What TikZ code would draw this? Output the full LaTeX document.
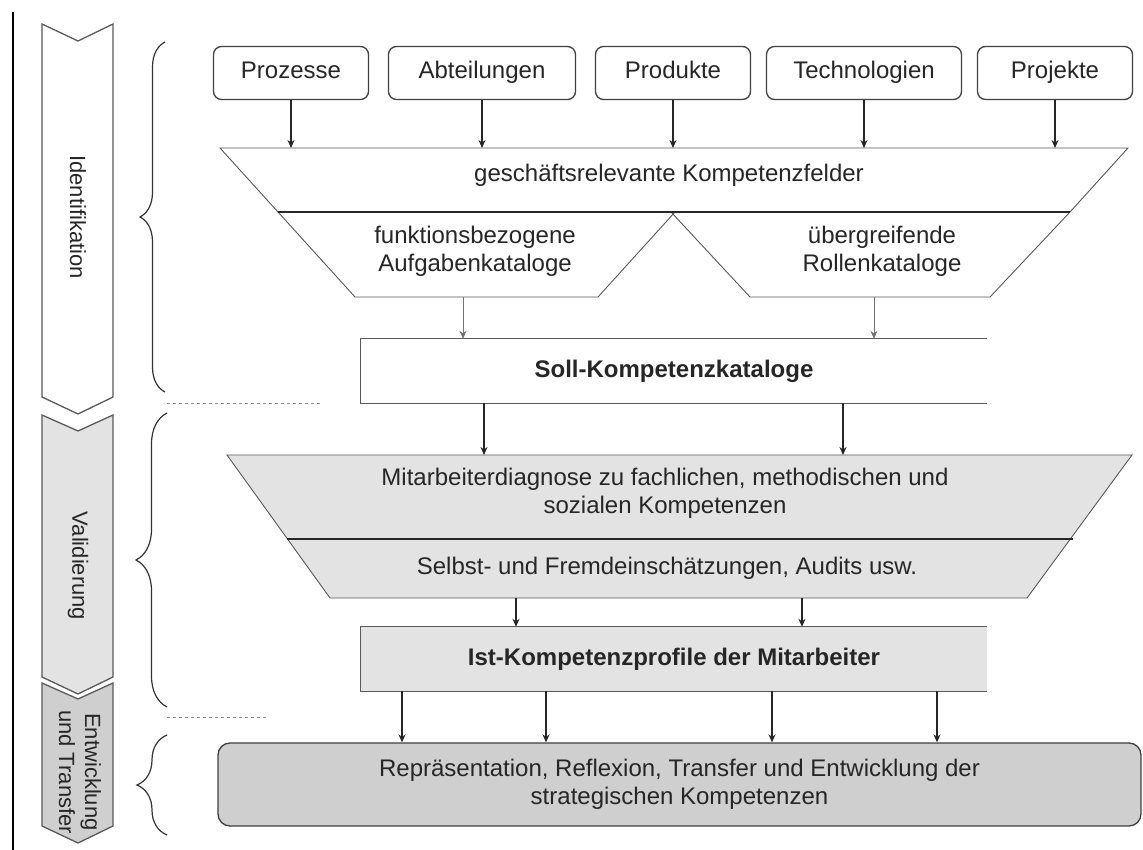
\documentclass[tikz,border=0pt]{standalone}
\usepackage{fontspec}
\setmainfont{Liberation Sans}
\usetikzlibrary{positioning, arrows.meta, decorations.pathreplacing}

\begin{document}
\begin{tikzpicture}[x=1pt, y=-1pt, node distance=191pt, on grid, >={Stealth[length=8pt, width=7pt]},
    font=\fontsize{24}{28}\selectfont, text=black!85,
    quelle/.style={draw=black!75, line width=1.3pt, rounded corners=8pt, minimum width=155pt, minimum height=53pt,
                   text height=17pt, text depth=5pt},
    katalog/.style={font=\bfseries\fontsize{24}{28}\selectfont, minimum width=626pt, minimum height=64pt},
    pfeil/.style={->, line width=1.3pt, black!85},
    duenn/.style={->, line width=0.8pt, black!55},
    kante/.style={line width=0.9pt, black!65},
    phase/.style={draw=black!65, line width=1.3pt},
    phasetext/.style={rotate=-90, align=center, font=\fontsize{22}{26}\selectfont},
    klammer/.style={decorate, decoration={brace, amplitude=#1}, line width=1.2pt, black!80},
    trenner/.style={dashed, line width=0.8pt, black!45}]

    \fill[white] (0,0) rectangle (1143,850);
    \useasboundingbox (0,0) rectangle (1143,850);

    % Phases on the left
    \draw[line width=2pt] (13,12) -- (13,850);
    \draw[phase, fill=white] (42,24) -- (78,41) -- (113,24) -- (113,397) -- (78,414) -- (42,397) -- cycle;
    \draw[phase, fill=black!11] (42,415) -- (78,431) -- (113,415) -- (113,677) -- (78,694) -- (42,677) -- cycle;
    \draw[phase, fill=black!19] (42,683) -- (78,699) -- (113,683) -- (113,826) -- (78,843) -- (42,826) -- cycle;
    \node[phasetext] (ident) at (78,217) {Identifikation};
    \node[phasetext] (valid) at (78,566) {Validierung};
    \node[phasetext] (entw) at (80,772) {Entwicklung\\und Transfer};

    % Braces and separators
    \draw[klammer=25pt] (165,392) -- (165,42);
    \draw[klammer=31pt] (167,707) -- (167,413);
    \draw[klammer=30pt] (167,835) -- (167,735);
    \draw[trenner] (167,403) -- (320,403);
    \draw[trenner] (167,717) -- (267,717);

    % Sources
    \node[quelle] (proz) at (291,73) {Prozesse};
    \node[quelle, minimum width=187pt] (abt) [right=of proz] {Abteilungen};
    \node[quelle] (prod) [right=of abt] {Produkte};
    \node[quelle, minimum width=195pt] (tech) [right=of prod] {Technologien};
    \node[quelle] (proj) [right=of tech] {Projekte};

    % Kompetenzfelder and catalogues
    \filldraw[kante, fill=white] (220,148) -- (1128,148) -- (1070,212) -- (278,212) -- cycle;
    \draw[kante] (278,212) -- (355,297) -- (598,297) -- (675,212);
    \draw[kante] (671,212) -- (750,297) -- (990,297) -- (1070,212);
    \draw[line width=2.2pt, black!85] (278,212) -- (1070,212);
    \coordinate (kfoben) at (669,148);
    \node (kf) at (669,175) {geschäftsrelevante Kompetenzfelder};
    \node[align=center] (aufg) at (475,251) {funktionsbezogene\\Aufgabenkataloge};
    \node[align=center] (roll) at (882,251) {übergreifende\\Rollenkataloge};
    \coordinate (aufgab) at (463,297);
    \coordinate (rollab) at (874,297);

    \foreach \q in {proz, abt, prod, tech, proj}
        \draw[pfeil] (\q.south) -- (\q.south |- kfoben);

    % Soll
    \node[katalog] (soll) at (674,371) {Soll-Kompetenzkataloge};
    \draw[kante] (soll.north east) -- (soll.north west) -- (soll.south west) -- (soll.south east);
    \draw[duenn] (aufgab) -- (aufgab |- soll.north);
    \draw[duenn] (rollab) -- (rollab |- soll.north);

    % Diagnose
    \filldraw[kante, fill=black!11] (227,455) -- (1132,455) -- (1027,598) -- (330,598) -- cycle;
    \draw[line width=1.2pt, black!85] (287,539) -- (1073,539);
    \coordinate (diagoben) at (665,455);
    \coordinate (diagunten) at (665,598);
    \node[align=center] (diag) at (665,493) {Mitarbeiterdiagnose zu fachlichen, methodischen und\\sozialen Kompetenzen};
    \node (selbst) at (667,568) {Selbst- und Fremdeinschätzungen, Audits usw.};
    \foreach \dx in {-190,169}
        \draw[pfeil] ([xshift=\dx pt]soll.south) -- ([xshift=\dx pt]soll.south |- diagoben);

    % Ist
    \node[katalog, fill=black!11] (ist) at (674,659) {Ist-Kompetenzprofile der Mitarbeiter};
    \draw[kante] (ist.north east) -- (ist.north west) -- (ist.south west) -- (ist.south east);
    \foreach \dx in {-158,128}
        \draw[pfeil] ([xshift=\dx pt]ist.north |- diagunten) -- ([xshift=\dx pt]ist.north);

    % Transfer
    \node[draw=black!75, line width=1.3pt, rounded corners=12pt, fill=black!19, align=center,
          minimum width=923pt, minimum height=83pt] (repr) at (679.5,784.5)
          {Repräsentation, Reflexion, Transfer und Entwicklung der\\strategischen Kompetenzen};
    \foreach \dx in {-272,-128,98,263}
        \draw[pfeil] ([xshift=\dx pt]ist.south) -- ([xshift=\dx pt]ist.south |- repr.north);

\end{tikzpicture}
\end{document}
